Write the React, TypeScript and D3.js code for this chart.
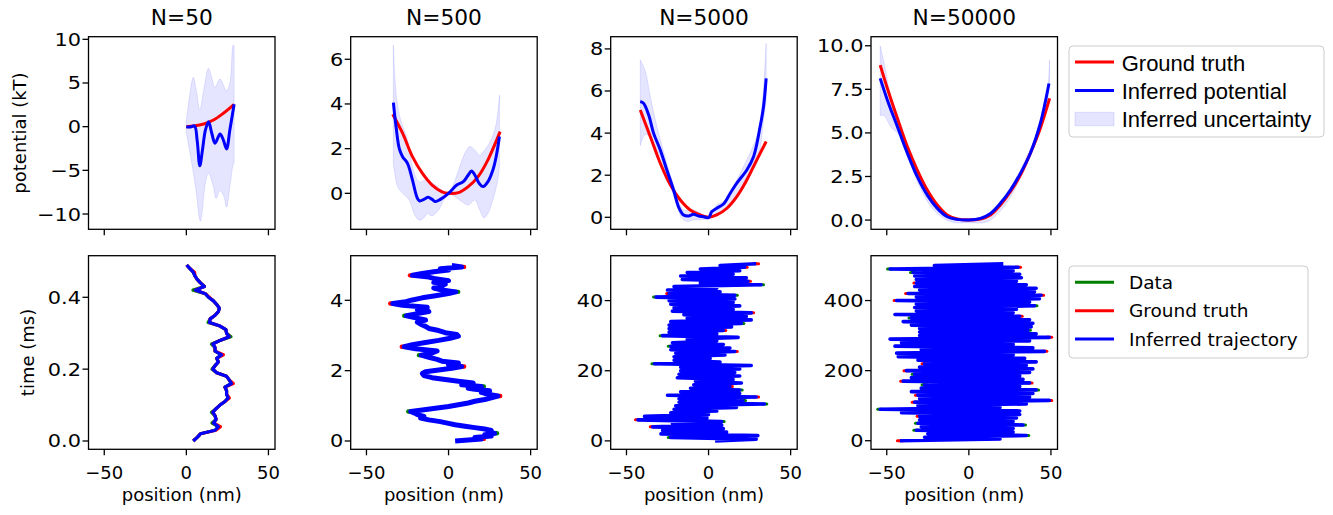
import React from "react";
import * as d3 from "d3";

// ---------------- data ----------------
const titles = ["N=50", "N=500", "N=5000", "N=50000"];
const xTicks = [-50, 0, 50];
const potTicks = [[-10, -5, 0, 5, 10], [0, 2, 4, 6], [0, 2, 4, 6, 8], [0, 2.5, 5, 7.5, 10]];
const timeTicks = [[0, 0.2, 0.4], [0, 2, 4], [0, 20, 40], [0, 200, 400]];
const potDomains: [number, number][] = [[-11.75, 10.3], [-1.61, 7.01], [-0.57, 8.58], [-0.53, 10.52]];
const timeDomains: [number, number][] = [[-0.0231, 0.5158], [-0.236, 5.268], [-2.4, 52.8], [-24.5, 528]];
const xDomain: [number, number] = [-59.6, 54.0];

// N=50 potential
const gt50X = [0, 4.6, 10.6, 16.5, 22.5, 29.1];
const gt50Y = [0, 0.08, 0.31, 0.76, 1.53, 2.56];
const inf50X = [0, 2.6, 5.0, 6.6, 8.2, 9.8, 11.6, 13.5, 15.5, 17.5, 20.5, 22.5, 24.5, 26.5, 29.1];
const inf50Y = [0, -0.04, 0.08, -1.6, -4.47, -2.7, -0.4, 0.57, -0.76, -1.9, -0.84, -1.5, -2.56, -0.38, 2.56];
const unc50UpX = [0, 1.6, 4.2, 6.2, 8.2, 10.6, 13.5, 15.5, 17.5, 20.5, 24.5, 26.5, 28.5, 29.1];
const unc50UpY = [0.7, 3.0, 5.65, 4.0, 1.9, 4.2, 6.7, 5.6, 4.5, 5.45, 4.1, 5.0, 9.35, 9.2];
const unc50LoX = [0, 2.6, 5.6, 8.6, 11.6, 13.5, 16.5, 18.1, 20.5, 22.9, 24.5, 26.5, 28.5, 29.1];
const unc50LoY = [-0.7, -3.4, -6.9, -10.8, -6.5, -5.3, -6.9, -8.2, -7.3, -8.0, -9.2, -6.9, -4.4, -4.2];

// N=500 potential
const gt500X = [-34, -28, -22, -16, -10, -4, 0, 6, 12, 18, 24, 31.4];
const gt500Y = [3.54, 2.69, 1.64, 0.9, 0.37, 0.07, 0, 0.03, 0.3, 0.75, 1.5, 2.76];
const inf500X = [-33.6, -32, -30, -28, -25, -22, -19, -17.6, -15, -12.4, -10, -8, -5, 0, 5, 9, 12, 14, 16, 18.6, 21, 24, 27, 29, 31];
const inf500Y = [4.06, 3.0, 2.0, 1.64, 1.34, 0.6, -0.22, -0.34, -0.27, -0.18, -0.27, -0.37, -0.27, 0, 0.37, 0.52, 0.82, 1.0, 0.82, 0.45, 0.3, 0.52, 1.04, 1.64, 2.54];
const unc500UpX = [-33.6, -32.5, -31, -28, -25, -22, -19, -17, -14, -11, -8, -4, 0, 4, 10, 13, 16, 19, 22, 26, 29, 31];
const unc500UpY = [6.64, 5.0, 3.9, 3.0, 2.4, 1.2, 0.6, 0.5, 0.6, 0.5, 0.37, 0.15, 0, 0.6, 1.8, 2.1, 1.94, 1.7, 1.94, 2.4, 3.1, 4.4];
const unc500LoX = [-33.6, -31, -28, -24, -21, -18, -15, -13, -10, -6, -3, 0, 4, 8, 12, 16, 19, 21.6, 24, 27, 30, 31];
const unc500LoY = [1.34, 0.3, 0, -0.3, -0.9, -1.2, -1.1, -0.9, -1.0, -0.75, -0.3, 0, -0.15, -0.37, -0.52, -0.3, -0.75, -1.1, -0.9, -0.3, 0.6, 1.2];

// N=5000 potential
const gt5000X = [-41.6, -35.5, -29.4, -23.3, -17.2, -11.2, -5.1, 0, 5, 11.2, 17.2, 23.3, 29.4, 35.1];
const gt5000Y = [5.1, 3.84, 2.57, 1.54, 0.82, 0.35, 0.11, 0, 0.11, 0.43, 0.98, 1.77, 2.73, 3.6];
const inf5000X = [-41.6, -39.6, -36.5, -33.5, -29.4, -25.4, -21.3, -18.3, -15.2, -12.2, -9.1, -6.1, -3, 0, 2, 5, 9.1, 13.2, 17.2, 23.3, 27.4, 31.4, 33.5, 35.1];
const inf5000Y = [5.5, 5.42, 4.87, 4.0, 3.2, 2.25, 1.3, 0.5, 0.11, 0.06, 0.14, 0.06, 0.03, -0.02, 0.27, 0.43, 0.63, 1.14, 1.62, 2.25, 2.88, 4.3, 5.26, 6.6];
const unc5000UpX = [-41.6, -38.5, -35.5, -31.4, -25.4, -20.3, -15.2, -9.1, -3, 0, 5, 11.2, 17.2, 23.3, 29.4, 32.5, 35.1];
const unc5000UpY = [7.48, 6.93, 5.74, 4.3, 2.57, 1.3, 0.35, 0.35, 0.11, 0.03, 0.59, 0.82, 1.77, 2.73, 3.84, 5.26, 8.27];
const unc5000LoX = [-41.6, -39, -36.5, -33.5, -29.4, -25.4, -20.3, -16.2, -13.2, -9.1, -3, 0, 5, 11.2, 17.2, 23.3, 29.4, 33.5, 35.1];
const unc5000LoY = [3.4, 3.9, 3.9, 3.5, 2.9, 1.93, 0.82, -0.05, -0.2, -0.13, -0.1, -0.05, 0.2, 0.35, 0.98, 1.93, 2.57, 4.6, 5.6];

// N=50000 potential
const gt50000X = [-54, -49.6, -43.5, -37.4, -31.4, -25.3, -19.2, -13.2, -7.1, 0, 7.1, 13.2, 19.2, 25.3, 31.4, 37.4, 43.5, 49.2];
const gt50000Y = [8.89, 7.55, 5.83, 4.2, 2.87, 1.72, 0.86, 0.29, 0.06, 0, 0.06, 0.29, 0.86, 1.63, 2.58, 3.82, 5.26, 6.98];
const inf50000X = [-54, -49.6, -43.5, -37.4, -31.4, -25.3, -19.2, -13.2, -7.1, 0, 7.1, 13.2, 19.2, 25.3, 31.4, 37.4, 43.5, 48.8];
const inf50000Y = [8.13, 6.88, 5.35, 3.82, 2.49, 1.43, 0.67, 0.19, 0.04, 0, 0.1, 0.38, 0.96, 1.72, 2.68, 3.82, 5.54, 7.84];
const unc50000UpX = [-54, -51.6, -47.6, -41.5, -31.4, -21.3, -11.1, 0, 11.1, 21.3, 31.4, 41.5, 46.6, 49.2];
const unc50000UpY = [10.0, 9.0, 7.1, 5.5, 2.7, 1.15, 0.19, 0.1, 0.19, 1.15, 2.87, 5.0, 6.3, 9.2];
const unc50000LoX = [-54, -51.6, -47.6, -41.5, -31.4, -21.3, -11.1, 0, 11.1, 21.3, 31.4, 41.5, 46.6, 49.2];
const unc50000LoY = [6.0, 6.0, 5.35, 4.78, 2.2, 0.57, -0.1, -0.15, -0.1, 0.76, 2.4, 4.6, 6.1, 7.84];

// N=50 trajectories (time step 0.01 ms)
const dt50 = 0.01;
const traj50Data = [4.2, 6.6, 8.6, 17.5, 19.5, 15.6, 18.1, 17.5, 15.3, 18.1, 20.5, 23.5, 25.5, 24.5, 24.5, 23.5, 27.5, 26.1, 24.5, 18.5, 15.6, 17.5, 19.5, 18.5, 21.5, 17.5, 17.5, 15.3, 20.5, 27.2, 24.5, 24.1, 20.5, 13.2, 14.5, 17.5, 19.5, 20.1, 18.5, 16.5, 13.5, 11.6, 4.0, 11.0, 8.6, 6.6, 5.2, 4.2, 2.2, 0.2];
const traj50Truth = [4.2, 6.6, 8.6, 18.0, 20.8, 16.5, 18.1, 17.5, 16.1, 18.1, 20.5, 23.5, 26.2, 24.5, 24.5, 23.5, 28.6, 26.1, 24.5, 18.5, 16.1, 17.5, 19.5, 18.5, 22.6, 17.5, 17.5, 16.1, 20.5, 26.1, 24.5, 24.1, 20.5, 14.1, 14.5, 17.5, 19.5, 20.1, 18.5, 16.5, 14.0, 11.6, 5.5, 11.0, 8.6, 6.6, 5.2, 5.0, 2.2, 0.2];
const traj50Inferred = [4.2, 6.6, 8.6, 17.5, 19.5, 16.5, 18.1, 17.5, 16.1, 18.1, 20.5, 23.5, 25.5, 24.5, 24.5, 23.5, 27.5, 26.1, 24.5, 18.5, 16.1, 17.5, 19.5, 18.5, 21.5, 17.5, 17.5, 16.1, 20.5, 26.1, 24.5, 24.1, 20.5, 14.1, 14.5, 17.5, 19.5, 20.1, 18.5, 16.5, 13.5, 11.6, 5.5, 11.0, 8.6, 6.6, 5.2, 4.2, 2.2, 0.2];

// N=500 trajectory (read samples)
const traj500Time = [0, 0.03, 0.06, 0.1, 0.14, 0.18, 0.22, 0.26, 0.3, 0.34, 0.38, 0.42, 0.46, 0.5,
  0.55, 0.6, 0.65, 0.7, 0.75, 0.8, 0.84, 0.88, 0.93, 0.98, 1.03, 1.08, 1.13, 1.18, 1.23, 1.28, 1.33, 1.38, 1.43, 1.47,
  1.5, 1.55, 1.6, 1.65, 1.7, 1.75, 1.8, 1.86, 1.92, 1.97, 2.02, 2.07, 2.12, 2.17, 2.22, 2.27, 2.32, 2.38, 2.44, 2.5,
  2.56, 2.62, 2.68, 2.74, 2.8, 2.86, 2.92, 2.98, 3.03, 3.08, 3.14, 3.2, 3.26, 3.32, 3.38, 3.44, 3.5, 3.56, 3.62, 3.68,
  3.74, 3.8, 3.86, 3.91, 3.96, 4.01, 4.07, 4.13, 4.19, 4.24, 4.29, 4.35, 4.41, 4.46, 4.51, 4.56, 4.61, 4.66, 4.71, 4.76,
  4.81, 4.86, 4.9, 4.95, 4.99];
const traj500Pos = [4, 12, 20, 16, 26, 22, 28, 24, 26, 22, 16, 10, 4, 0,
  -5, -12, -17, -15, -19, -21, -23, -16, -8, 0, 6, 12, 16, 22, 26, 30, 24, 20, 25, 16,
  12, 20, 8, 15, 6, -2, -10, -15, -16, -14, -6, 2, 8, 0, 6, -4, -7, -12, -16.6, -10,
  -7, -20, -27, -22, -14, -6, 1, 6, 5, -2, -6, -12, -14, -17, -19, -14, -20, -25.6, -19, -12,
  -19, -13, -28, -34, -26, -22, -16, -8, 0, 4.4, -4, -9, -4, -2, -9, 0, -8, -12, -22, -16,
  -9, 0, -5, 8, 2];
// visible tips of ground truth / data beyond the inferred line: [time, position]
const tips500Truth: Pt[] = [[0.06, 21.5], [1.28, 31.5], [3.91, -35.5], [2.68, -28.5], [2.12, 9.5], [4.71, -23.5], [4.95, 9.5]];
const tips500Data: Pt[] = [[0.84, -24.5], [2.44, -18], [3.56, -27], [4.24, 5.9], [0.22, 29.5], [1.55, 21.5]];

// N=5000 trajectory: left / right excursion per 1 ms row
const row5000 = 1;
const traj5000Left = [4, -23, -29, -28, -34, -22, -43, -39, -23, -21, -20, -18, -18, -25, -17, -11, -9, -8, -19, -18, -17, -17, -33, -21, -21, -20, -23, -23, -22, -13, -28, -24, -24, -24, -23, -13, -15, -22, -21, -23, -24, -32, -24, -25, -21, -5, -16, -17, -13, -5, 7];
const traj5000Right = [29, 30, 11, 9, 8, 8, -1, 0, 5, 17, 34, 21, 29, 19, 19, 13, 20, 15, 19, 16, 19, 26, 7, 1, 10, 16, 13, 9, 5, 18, 5, 9, 14, 20, 26, 23, 26, 15, 19, 15, 16, 16, 7, 5, 32, 24, 23, 15, 19, 22, 29];
const tips5000Truth: Pt[] = [[4, -35.5], [6, -44.5], [12.5, 30.5], [15.5, 14.5], [25.5, 17.5], [31.5, 10.5], [36.5, 27.5], [42, -25.5], [45.5, 25.5], [49.5, 23.5], [50.5, 30.5]];
const tips5000Data: Pt[] = [[1, -24.5], [5.5, 9.5], [10.5, 35.5], [11.5, 22.5], [14.5, 20.5], [22, -34.5], [27, -24.5], [30, -29.5], [33.5, 21.5], [41, -33.5], [44.5, 33.5], [41.5, 17.5]];

// N=50000 trajectory: left / right excursion per 10 ms row
const row50000 = 10;
const traj50000Left = [-42, -27, -25, -32, -29, -31, -30, -30, -41, -54, -31, -33, -30, -31, -35, -29, -27, -40, -35, -33, -38, -30, -27, -31, -43, -44, -29, -45, -41, -48, -30, -30, -30, -35, -40, -35, -45, -32, -33, -32, -44, -32, -37, -30, -33, -32, -32, -33, -34, -48, -21];
const traj50000Right = [19, 35, 27, 27, 33, 27, 29, 31, 31, 19, 35, 49, 37, 39, 41, 31, 37, 33, 31, 37, 39, 35, 41, 34, 27, 46, 39, 27, 37, 49, 41, 36, 38, 39, 37, 31, 27, 29, 40, 37, 43, 44, 40, 41, 35, 29, 32, 31, 27, 30, 21];
const tips50000Truth: Pt[] = [[0, -43.5], [70, -31.5], [110, -34.5], [115, 50.5], [130, -32.5], [165, 38.5], [170, -41.5], [220, -28.5], [255, 47.5], [295, 50.5], [200, -39.5], [400, -45.5], [420, -38.5], [450, -33.5], [495, 31.5], [415, 45.5], [355, 32.5]];
const tips50000Data: Pt[] = [[15, 36.5], [30, -33.5], [45, 34.5], [50, -32.5], [90, -55.5], [145, 42.5], [160, -28.5], [190, -34.5], [350, -36.5], [480, -35.5], [490, -49.5], [385, 41.5], [315, 37.5]];

// ---------------- layout ----------------
const W = 1333, H = 515;
const colLeft = [88.5, 350.7, 610.7, 871];
const panelW = 186.5;
const topY0 = 36.7, topY1 = 229.3;
const botY0 = 255.7, botY1 = 449.3;
const FONT = "DejaVu Sans, sans-serif";
const TICK_FS = 18;
const RED = "#ff0000", BLUE = "#0000ff", GREEN = "#008000";

type Pt = [number, number];
const pairs = (xs: number[], ys: number[]): Pt[] => xs.slice(0, Math.min(xs.length, ys.length)).map((x, k) => [x, ys[k]]);

const potCurves = [
  { gt: pairs(gt50X, gt50Y), inf: pairs(inf50X, inf50Y), up: pairs(unc50UpX, unc50UpY), lo: pairs(unc50LoX, unc50LoY) },
  { gt: pairs(gt500X, gt500Y), inf: pairs(inf500X, inf500Y), up: pairs(unc500UpX, unc500UpY), lo: pairs(unc500LoX, unc500LoY) },
  { gt: pairs(gt5000X, gt5000Y), inf: pairs(inf5000X, inf5000Y), up: pairs(unc5000UpX, unc5000UpY), lo: pairs(unc5000LoX, unc5000LoY) },
  { gt: pairs(gt50000X, gt50000Y), inf: pairs(inf50000X, inf50000Y), up: pairs(unc50000UpX, unc50000UpY), lo: pairs(unc50000LoX, unc50000LoY) },
];

// trajectories as [position, time]
const series50 = (arr: number[]): Pt[] => arr.map((p, k) => [p, k * dt50]);
const zigzag = (left: number[], right: number[], step: number): Pt[] => {
  const out: Pt[] = [];
  left.forEach((l, k) => {
    out.push([l, k * step]);
    out.push([right[k], k * step + step / 2]);
  });
  return out;
};
const swap = (tips: Pt[]): Pt[] => tips.map(([t, p]) => [p, t]);
const trajSets: { data?: Pt[]; truth?: Pt[]; inf: Pt[]; sw: number; tipT?: Pt[]; tipD?: Pt[] }[] = [
  { data: series50(traj50Data), truth: series50(traj50Truth), inf: series50(traj50Inferred), sw: 3.2 },
  { inf: pairs(traj500Pos, traj500Time), sw: 5, tipT: swap(tips500Truth), tipD: swap(tips500Data) },
  { inf: zigzag(traj5000Left, traj5000Right, row5000), sw: 3.6, tipT: swap(tips5000Truth), tipD: swap(tips5000Data) },
  { inf: zigzag(traj50000Left, traj50000Right, row50000), sw: 3.6, tipT: swap(tips50000Truth), tipD: swap(tips50000Data) },
];

const fmtFor = (ticks: number[]) => (ticks.some((t) => !Number.isInteger(t)) ? d3.format(".1f") : d3.format("d"));

function Frame({ x0, y0, y1 }: { x0: number; y0: number; y1: number }) {
  return <rect x={x0} y={y0} width={panelW} height={y1 - y0} fill="none" stroke="#000" strokeWidth={1.3} />;
}

function YAxis({ x0, yS, ticks }: { x0: number; yS: d3.ScaleLinear<number, number>; ticks: number[] }) {
  const f = fmtFor(ticks);
  return (
    <g>
      {ticks.map((t) => (
        <g key={t}>
          <line x1={x0 - 6} x2={x0} y1={yS(t)} y2={yS(t)} stroke="#000" strokeWidth={1.3} />
          <text transform={`translate(${x0 - 7.5},${yS(t)}) scale(1.16,1)`} dy="0.36em" textAnchor="end" fontSize={TICK_FS} fontFamily={FONT}>
            {f(t)}
          </text>
        </g>
      ))}
    </g>
  );
}

function XAxis({ xS, y1, labels }: { xS: d3.ScaleLinear<number, number>; y1: number; labels: boolean }) {
  const f = d3.format("d");
  return (
    <g>
      {xTicks.map((t) => (
        <g key={t}>
          <line x1={xS(t)} x2={xS(t)} y1={y1} y2={y1 + 6} stroke="#000" strokeWidth={1.3} />
          {labels && (
            <text x={xS(t)} y={y1 + 29.2} textAnchor="middle" fontSize={TICK_FS} fontFamily={FONT}>
              {f(t)}
            </text>
          )}
        </g>
      ))}
    </g>
  );
}

export default function App() {
  const curve = d3.curveCatmullRom.alpha(0.5);
  return (
    <svg width={W} height={H} viewBox={`0 0 ${W} ${H}`} style={{ position: "absolute", left: 0, top: 0, background: "#fff" }}>
      <rect x={0} y={0} width={W} height={H} fill="#fff" />
      <defs>
        {colLeft.map((x0, i) => (
          <React.Fragment key={i}>
            <clipPath id={`ct${i}`}>
              <rect x={x0} y={topY0} width={panelW} height={topY1 - topY0} />
            </clipPath>
            <clipPath id={`cb${i}`}>
              <rect x={x0} y={botY0} width={panelW} height={botY1 - botY0} />
            </clipPath>
          </React.Fragment>
        ))}
      </defs>
      {colLeft.map((x0, i) => {
        const xS = d3.scaleLinear().domain(xDomain).range([x0, x0 + panelW]);
        const yT = d3.scaleLinear().domain(potDomains[i]).range([topY1, topY0]);
        const yB = d3.scaleLinear().domain(timeDomains[i]).range([botY1, botY0]);
        const c = potCurves[i];
        const potLine = d3.line<Pt>().x((d) => xS(d[0])).y((d) => yT(d[1])).curve(curve);
        const upS = potLine(c.up) || "";
        const loS = potLine([...c.lo].reverse()) || "";
        const band = upS + "L" + loS.slice(1) + "Z";
        const tr = trajSets[i];
        const trLine = d3.line<Pt>().x((d) => xS(d[0])).y((d) => yB(d[1]));
        const cx = x0 + panelW / 2;
        const tipSeg = (tips: Pt[] | undefined, color: string) =>
          (tips || []).map(([p, t], k) => {
            const inward = p > 0 ? -3 : 3;
            return (
              <line key={color + k} x1={xS(p)} x2={xS(p + inward)} y1={yB(t)} y2={yB(t)} stroke={color} strokeWidth={tr.sw - 0.6} strokeLinecap="round" />
            );
          });
        return (
          <g key={i}>
            {/* top: potentials */}
            <text x={cx} y={25} textAnchor="middle" fontSize={21.7} fontFamily={FONT}>
              {titles[i]}
            </text>
            <g clipPath={`url(#ct${i})`}>
              <path d={band} fill="rgba(0,0,255,0.1)" stroke="rgba(0,0,255,0.1)" strokeWidth={1} />
              <path d={potLine(c.gt) || ""} fill="none" stroke={RED} strokeWidth={3} strokeLinejoin="round" />
              <path d={potLine(c.inf) || ""} fill="none" stroke={BLUE} strokeWidth={3} strokeLinejoin="round" />
            </g>
            <Frame x0={x0} y0={topY0} y1={topY1} />
            <YAxis x0={x0} yS={yT} ticks={potTicks[i]} />
            <XAxis xS={xS} y1={topY1} labels={false} />

            {/* bottom: trajectories */}
            <g clipPath={`url(#cb${i})`}>
              {tr.data && <path d={trLine(tr.data) || ""} fill="none" stroke={GREEN} strokeWidth={tr.sw} strokeLinejoin="round" />}
              {tr.truth && <path d={trLine(tr.truth) || ""} fill="none" stroke={RED} strokeWidth={tr.sw} strokeLinejoin="round" />}
              {tipSeg(tr.tipD, GREEN)}
              {tipSeg(tr.tipT, RED)}
              <path d={trLine(tr.inf) || ""} fill="none" stroke={BLUE} strokeWidth={tr.sw} strokeLinejoin="round" />
            </g>
            <Frame x0={x0} y0={botY0} y1={botY1} />
            <YAxis x0={x0} yS={yB} ticks={timeTicks[i]} />
            <XAxis xS={xS} y1={botY1} labels={true} />
            <text x={cx} y={500.5} textAnchor="middle" fontSize={18} fontFamily={FONT}>
              position (nm)
            </text>
          </g>
        );
      })}

      {/* y labels */}
      <text transform={`translate(25.5, ${(topY0 + topY1) / 2}) rotate(-90)`} textAnchor="middle" fontSize={18} fontFamily={FONT}>
        potential (kT)
      </text>
      <text transform={`translate(34.3, ${(botY0 + botY1) / 2}) rotate(-90)`} textAnchor="middle" fontSize={18} fontFamily={FONT}>
        time (ms)
      </text>

      {/* top legend */}
      <g fontFamily="Liberation Sans, Arial, sans-serif" fontSize={22}>
        <rect x={1069} y={46} width={255} height={91} rx={4} fill="#fff" fillOpacity={0.8} stroke="#cccccc" strokeWidth={1} />
        <line x1={1075} x2={1114} y1={62} y2={62} stroke={RED} strokeWidth={3} />
        <text x={1121.7} y={70.5}>Ground truth</text>
        <line x1={1075} x2={1114} y1={90.5} y2={90.5} stroke={BLUE} strokeWidth={3} />
        <text x={1121.7} y={98.5}>Inferred potential</text>
        <rect x={1075} y={112.3} width={39} height={13.5} fill="rgba(0,0,255,0.1)" stroke="rgba(0,0,255,0.1)" strokeWidth={1} />
        <text x={1121.7} y={126.5}>Inferred uncertainty</text>
      </g>

      {/* bottom legend */}
      <g fontFamily={FONT} fontSize={18.5}>
        <rect x={1069} y={266} width={239} height={92} rx={4} fill="#fff" fillOpacity={0.8} stroke="#cccccc" strokeWidth={1} />
        <line x1={1075} x2={1114} y1={282.3} y2={282.3} stroke={GREEN} strokeWidth={3} />
        <text x={1129} y={289}>Data</text>
        <line x1={1075} x2={1114} y1={310.7} y2={310.7} stroke={RED} strokeWidth={3} />
        <text x={1129} y={317.4}>Ground truth</text>
        <line x1={1075} x2={1114} y1={339} y2={339} stroke={BLUE} strokeWidth={3} />
        <text x={1129} y={345.7}>Inferred trajectory</text>
      </g>
    </svg>
  );
}
